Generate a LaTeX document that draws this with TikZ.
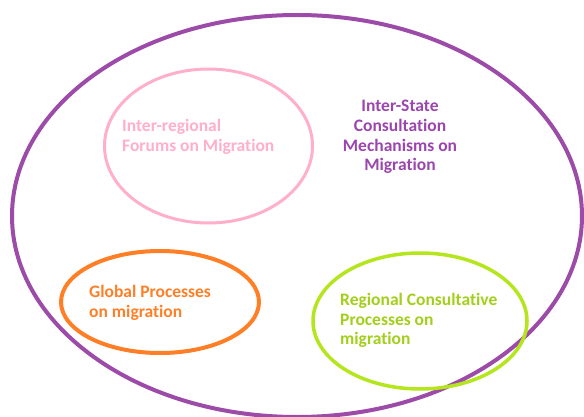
\documentclass[tikz,border=0pt]{standalone}
\usepackage{fontspec}
\setmainfont{Carlito}[Ligatures={NoCommon}]
\definecolor{bigpurple}{HTML}{9C4BA8}
\definecolor{pinkc}{HTML}{FFAFCB}
\definecolor{orangec}{HTML}{FF7F27}
\definecolor{greenc}{HTML}{B5E61D}
\definecolor{textpurple}{HTML}{9B45AE}
\begin{document}
\begin{tikzpicture}[x=1pt,y=-1pt,
  lbl/.style={font=\bfseries\fontsize{17.5}{19.8}\selectfont, inner sep=0pt}]
\useasboundingbox (0,0) rectangle (584,417);
\fill[white] (0,0) rectangle (584,417);
\begin{scope}
\clip (0,0) rectangle (584,417);
\draw[bigpurple, line width=4] (297,216) ellipse [x radius=285, y radius=201];
\end{scope}
\draw[pinkc, line width=3] (208.5,146) ellipse [x radius=104, y radius=77];
\draw[orangec, line width=4] (160,302) ellipse [x radius=99, y radius=51];
\draw[greenc, line width=3.5] (420,321) ellipse [x radius=107, y radius=68];
\node[lbl, text=pinkc, align=left, anchor=west] (forums) at (122,137) {Inter-regional\\Forums on Migration};
\node[lbl, text=textpurple, align=center] (state) at (400,137) {Inter-State\\Consultation\\Mechanisms on\\Migration};
\node[lbl, text=orangec, align=left, anchor=west] (global) at (89,302.5) {Global Processes\\on migration};
\node[lbl, text=greenc!90!black, align=left, anchor=west] (regional) at (340,320.5) {Regional Consultative\\Processes on\\migration};
\end{tikzpicture}
\end{document}
